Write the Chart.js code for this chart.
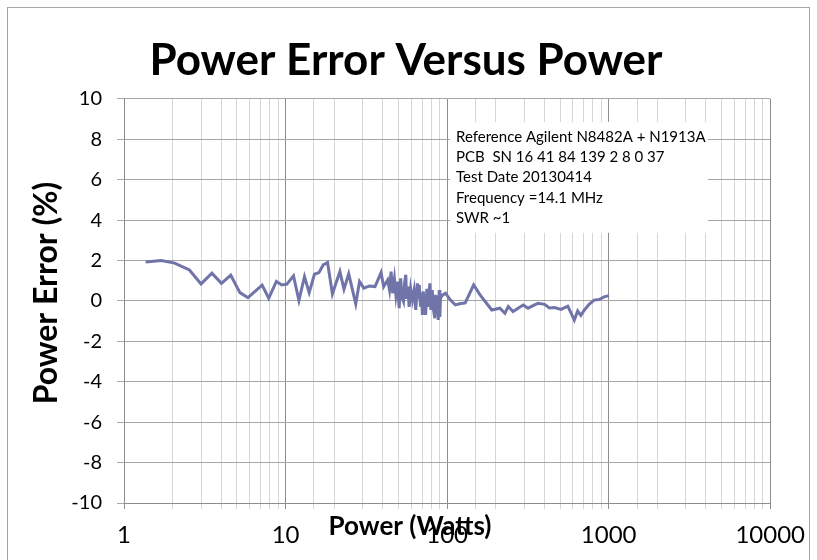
<!DOCTYPE html>
<html>
<head>
<meta charset="utf-8">
<script src="https://cdn.jsdelivr.net/npm/chart.js@4.4.1/dist/chart.umd.min.js"></script>
<style>
  body { margin: 0; background: #fff; }
</style>
</head>
<body>
<canvas id="powerChart" width="817" height="560"></canvas>
<script>
const powerWatts = [
  1.36, 1.70, 2.06, 2.54, 3.00, 3.50, 4.01, 4.58, 5.22, 5.85, 7.16, 7.87, 8.77, 9.49,
  10.2, 11.2, 12.1, 13.1, 14.0, 15.1, 16.1, 17.1, 18.2, 19.5, 21.7, 23.0, 24.6, 27.2,
  28.7, 30.5, 33.1, 35.8,
  39.0, 40.5, 42.9, 44.0, 45.0, 46.0, 47.2, 48.2, 49.3, 50.5,
  51.6, 52.5, 53.7, 54.6, 55.5, 56.1, 57.2, 58.2, 59.5, 61.0,
  62.5, 64.0, 65.5, 66.1, 67.2, 68.5, 69.5, 70.3, 71.2, 72.5,
  73.6, 75.0, 76.1, 77.2, 78.3, 79.3, 80.9, 82.3, 83.9, 85.0,
  86.2, 87.2, 88.1, 89.4, 90.2, 91.0, 94.0, 97.7,
  104.6, 112.5, 119.7, 129.5, 146, 160,
  189, 212, 228, 239, 256, 275, 296, 317, 348, 365, 401, 430, 462, 508, 558, 585, 613,
  643, 673, 706, 757, 813, 873, 936, 1005
];
const errorPct = [
  1.93, 2.00, 1.87, 1.53, 0.84, 1.37, 0.87, 1.27, 0.41, 0.16, 0.78, 0.13, 0.96, 0.79,
  0.83, 1.24, 0.02, 1.20, 0.41, 1.32, 1.40, 1.78, 1.90, 0.35, 1.45, 0.58, 1.34, -0.15,
  0.96, 0.63, 0.74, 0.71,
  1.40, 0.71, 1.04, 0.55, 1.45, 0.38, 1.10, 0.30, 0.96, -0.36,
  1.12, 0.20, -0.02, 0.90, 1.29, 0.10, 0.71, -0.30, 0.60, 0.05,
  0.54, -0.45, 0.87, 0.10, 0.79, -0.28, 0.40, -0.69, 0.47, -0.20,
  -0.69, 0.60, -0.30, 0.38, 0.87, -0.45, 0.54, -0.40, -0.86, 0.30,
  -0.50, 0.21, -0.94, 0.54, -0.80, 0.13, 0.30, 0.38,
  0.05, -0.20, -0.14, -0.10, 0.79, 0.30,
  -0.45, -0.36, -0.61, -0.28, -0.53, -0.36, -0.20, -0.36, -0.20, -0.12, -0.17, -0.35, -0.33, -0.42, -0.26, -0.59, -0.95,
  -0.50, -0.72, -0.46, -0.17, 0.04, 0.07, 0.20, 0.26
];
const xTickLabels = [1, 10, 100, 1000, 10000];
const yTicks = { min: -10, max: 10, step: 2 };
const xTitle = "Power (Watts)";
const yTitle = "Power Error (%)";
const noteLines = [
  "Reference Agilent N8482A + N1913A",
  "PCB  SN 16 41 84 139 2 8 0 37",
  "Test Date 20130414",
  "Frequency =14.1 MHz",
  "SWR ~1"
];

(() => {
  const ctx = document.querySelector("#powerChart");
  const FONT = "Lato, 'Open Sans', sans-serif";
  const isDecade = (v) => Math.abs(Math.log10(v) - Math.round(Math.log10(v))) < 1e-6;

  // frame, note box and the two axis titles (placed like the Excel original)
  const extras = {
    id: "extras",
    beforeDraw(chart) {
      const c = chart.ctx;
      c.save();
      c.fillStyle = "#fff";
      c.fillRect(0, 0, chart.width, chart.height);
      c.strokeStyle = "#a6a6a6";
      c.lineWidth = 1;
      c.strokeRect(7.5, 7.5, 802, 600);
      c.restore();
    },
    beforeDatasetsDraw(chart) {
      const c = chart.ctx;
      const a = chart.chartArea;
      const x = a.left + 326, y = a.top + 23, w = 258, h = 111;
      c.save();
      c.fillStyle = "#fff";
      c.fillRect(x, y, w, h);
      c.fillStyle = "#000";
      c.font = "15px " + FONT;
      c.textBaseline = "middle";
      noteLines.forEach((t, i) => c.fillText(t, x + 6, y + 15 + i * 20.3));
      c.restore();
    },
    afterDraw(chart) {
      const c = chart.ctx;
      c.save();
      c.fillStyle = "#000";
      c.textAlign = "center";
      c.textBaseline = "middle";
      c.font = "bold 26px " + FONT;
      c.fillText(xTitle, 410, 527);
      c.translate(47, 293);
      c.rotate(-Math.PI / 2);
      c.font = "bold 32px " + FONT;
      c.fillText(yTitle, 0, 0);
      c.restore();
    },
  };

  new Chart(ctx, {
    type: "scatter",
    data: {
      datasets: [
        {
          data: powerWatts.map((p, i) => ({ x: p, y: errorPct[i] })),
          showLine: true,
          borderColor: "rgb(112, 116, 168)",
          borderWidth: 3,
          pointRadius: 0,
          tension: 0,
        },
      ],
    },
    options: {
      responsive: false,
      animation: false,
      layout: { padding: { left: 0, right: 5, top: 0, bottom: 0 } },
      plugins: {
        legend: { display: false },
        tooltip: { enabled: false },
        title: {
          display: true,
          text: "Power Error Versus Power",
          color: "#000",
          font: { family: FONT, size: 44, weight: "bold" },
          padding: { top: 34, bottom: 12 },
        },
      },
      scales: {
        x: {
          type: "logarithmic",
          min: 1,
          max: 10000,
          afterFit: (s) => { s.height = 57; },
          border: { display: true, color: "#8c8c8c" },
          grid: {
            color: (c) => (c.tick && isDecade(c.tick.value) ? "#8c8c8c" : "#d6d6d6"),
            tickLength: 6,
          },
          ticks: {
            autoSkip: false,
            maxRotation: 0,
            padding: 12,
            color: "#000",
            font: { family: FONT, size: 24 },
            callback: (v) => (xTickLabels.includes(v) ? String(v) : ""),
          },
        },
        y: {
          min: yTicks.min,
          max: yTicks.max,
          afterFit: (s) => { s.width = 124; },
          border: { display: true, color: "#8c8c8c" },
          grid: { color: "#a6a6a6", tickLength: 7 },
          ticks: {
            stepSize: yTicks.step,
            padding: 15,
            color: "#000",
            font: { family: FONT, size: 20 },
          },
        },
        // empty right-hand strip so the page title centres like the original
        yRight: {
          position: "right",
          afterFit: (s) => { s.width = 36; },
          grid: { display: false },
          border: { display: false },
          ticks: { display: false },
        },
      },
    },
    plugins: [extras],
  });
})();
</script>
</body>
</html>
